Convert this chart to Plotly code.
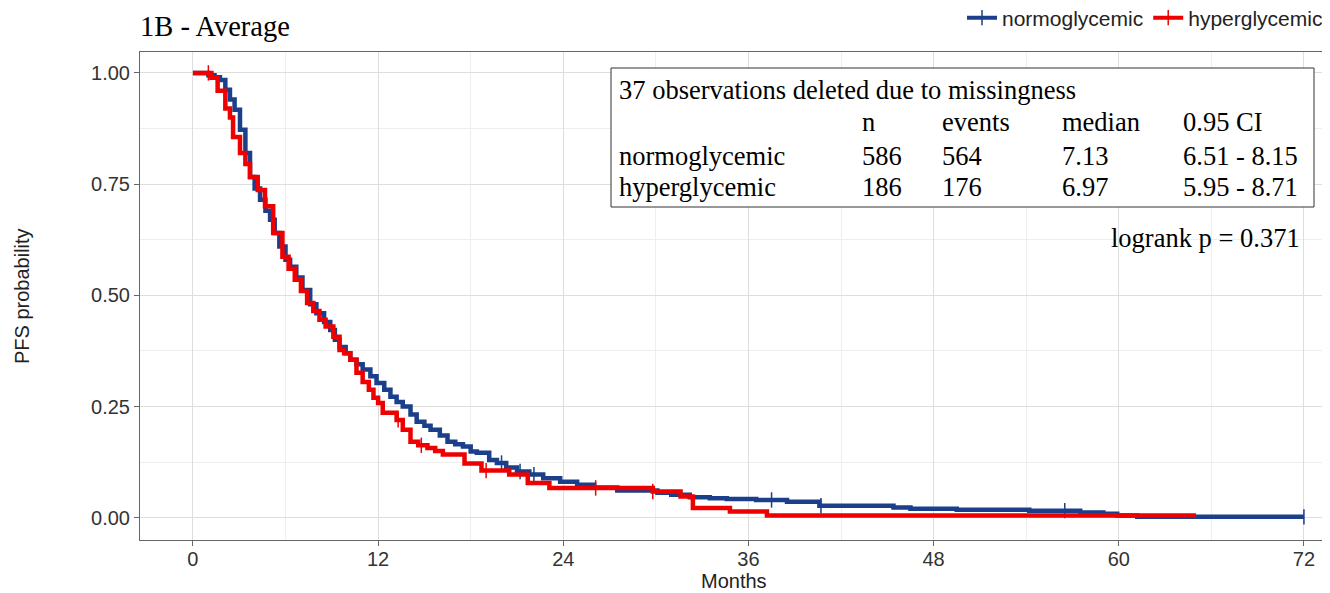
import numpy as np
import plotly.graph_objects as go

# Kaplan-Meier step curves (months, survival after the step)
normo_t = [0, 1.0, 1.4, 1.75, 2.1, 2.4, 2.7, 3.05, 3.4, 3.7, 4.0, 4.35, 4.7, 5.0, 5.3, 5.6, 6.0, 6.3,
           6.7, 7.1, 7.6, 8.0, 8.5, 8.9, 9.2, 9.5, 9.9, 10.2, 10.6, 11.0, 11.5, 11.9, 12.4, 12.8, 13.2,
           13.6, 14.1, 14.5, 15.0, 15.4, 16.0, 16.5, 17.0, 17.5, 18.0, 18.4, 19.2, 19.7, 20.3, 21.0,
           21.8, 22.7, 23.8, 24.9, 26.0, 27.5, 30.1, 31.0, 32.2, 33.5, 34.6, 36.5, 38.5, 40.6, 45.4,
           46.5, 49.5, 54.2, 57.5, 59.0, 59.9, 61.2, 72.0]
normo_s = [1.0, 0.995, 0.99, 0.984, 0.962, 0.94, 0.917, 0.872, 0.82, 0.766, 0.74, 0.715, 0.69, 0.67,
           0.64, 0.61, 0.58, 0.564, 0.54, 0.512, 0.48, 0.46, 0.44, 0.422, 0.40, 0.384, 0.37, 0.355,
           0.345, 0.333, 0.318, 0.303, 0.288, 0.272, 0.26, 0.25, 0.232, 0.216, 0.207, 0.198, 0.185,
           0.171, 0.165, 0.16, 0.149, 0.146, 0.13, 0.123, 0.113, 0.104, 0.097, 0.089, 0.081, 0.074,
           0.068, 0.061, 0.056, 0.052, 0.046, 0.044, 0.042, 0.040, 0.036, 0.027, 0.023, 0.020, 0.018,
           0.016, 0.012, 0.009, 0.005, 0.002, 0.002]

hyper_t = [0, 1.2, 1.6, 2.1, 2.4, 2.6, 3.05, 3.4, 3.7, 4.2, 4.67, 5.2, 5.8, 6.2, 6.6, 7.0, 7.4, 7.8,
           8.2, 8.6, 9.1, 9.5, 9.8, 10.2, 10.6, 11.0, 11.4, 11.7, 12.0, 12.3, 13.2, 13.6, 14.1, 14.6,
           15.2, 15.7, 16.2, 17.6, 18.7, 20.5, 21.7, 23.1, 29.8, 31.6, 32.4, 34.8, 37.2, 65.0]
hyper_s = [1.0, 0.989, 0.96, 0.92, 0.90, 0.856, 0.82, 0.795, 0.766, 0.737, 0.70, 0.64, 0.587, 0.56,
           0.535, 0.51, 0.483, 0.465, 0.445, 0.43, 0.407, 0.377, 0.37, 0.355, 0.326, 0.305, 0.288,
           0.27, 0.258, 0.236, 0.22, 0.198, 0.171, 0.163, 0.157, 0.15, 0.142, 0.122, 0.106, 0.097,
           0.078, 0.067, 0.059, 0.048, 0.022, 0.014, 0.005, 0.005]

# censoring times
normo_cens = [20.0, 21.2, 22.1, 37.5, 40.7, 56.5, 72.0]
hyper_cens = [1.0, 13.3, 14.8, 19.0, 26.1, 29.8]

groups = ["normoglycemic", "hyperglycemic"]
colors = ["#1B3F8B", "#EE0000"]

table_head = ["n", "events", "median", "0.95 CI"]
table_rows = [["normoglycemic", "586", "564", "7.13", "6.51 - 8.15"],
              ["hyperglycemic", "186", "176", "6.97", "5.95 - 8.71"]]


def surv_at(t, s, times):
    idx = np.searchsorted(t, times, side="right") - 1
    return [s[i] for i in idx]


fig = go.Figure()
curves = [(normo_t, normo_s, normo_cens), (hyper_t, hyper_s, hyper_cens)]
for name, col, (t, s, c) in zip(groups, colors, curves):
    fig.add_trace(go.Scatter(x=t, y=s, mode="lines", line=dict(color=col, width=4.5, shape="hv"),
                             name=name, showlegend=False))
    fig.add_trace(go.Scatter(x=c, y=surv_at(t, s, c), mode="markers", showlegend=False,
                             marker=dict(symbol="line-ns", size=11, line=dict(color=col, width=1.5))))
    # legend entry: line with a cross tick
    fig.add_trace(go.Scatter(x=[None], y=[None], mode="lines+markers", name=name,
                             line=dict(color=col, width=4),
                             marker=dict(symbol="line-ns", size=11, line=dict(color=col, width=1.5))))

# page body has an 8px margin, so the figure is drawn 8px smaller
OFF = 8
W, H = 1330 - OFF, 593 - OFF
# plot area in page pixels: x 140..1328, y 52..540
PL, PR, PT, PB = 140, 1328, 52, 540
L, R, T, B = PL - OFF, 1330 - PR, PT - OFF, 593 - PB


def px(x):
    return (x - PL) / (PR - PL)


def py(y):
    return (PB - y) / (PB - PT)


serif = dict(family="Liberation Serif, Times New Roman, serif", size=26.5, color="black")
sans = "Liberation Sans, Arial, sans-serif"


def note(x, y, text, font, xanchor="left", **kw):
    fig.add_annotation(x=px(x), y=py(y), xref="paper", yref="paper", xanchor=xanchor,
                       yanchor="middle", showarrow=False, text=text, font=font, **kw)


# table box
fig.add_shape(type="rect", xref="paper", yref="paper", x0=px(611), x1=px(1314), y0=py(207), y1=py(68),
              line=dict(color="#333333", width=1), fillcolor="white", layer="above")
note(617, 90, "37 observations deleted due to missingness", serif)
col_x = [617, 860, 940, 1060, 1181]
for j, h in enumerate(table_head):
    note(col_x[j + 1], 122, h, serif)
for i, row in enumerate(table_rows):
    for j, v in enumerate(row):
        note(col_x[j], 156 + 31 * i, v, serif)
note(1302, 238, "logrank p = 0.371", serif, xanchor="right")

note(138, 26, "1B - Average", dict(family="Liberation Serif, serif", size=28.5, color="black"))
note(734, 581, "Months", dict(family=sans, size=20, color="#222222"), xanchor="center")
note(22, 296, "PFS probability", dict(family=sans, size=20, color="#222222"), xanchor="center",
     textangle=-90)

axis_common = dict(showline=True, mirror=True, linecolor="#666666", linewidth=1, ticks="outside",
                   ticklen=5, tickcolor="#666666", gridcolor="#DEDEDE", gridwidth=1, zeroline=False,
                   automargin=False,
                   tickfont=dict(family=sans, size=20, color="#333333"))

fig.update_layout(
    width=W, height=H,
    margin=dict(l=L, r=R, t=T, b=B, autoexpand=False),
    plot_bgcolor="white", paper_bgcolor="white",
    font=dict(family=sans, color="#222222"),
    legend=dict(orientation="h", xref="container", yref="container", x=(962 - OFF) / W,
                xanchor="left", y=1 - 10 / H, yanchor="middle", tracegroupgap=0,
                font=dict(size=21, color="#222222"), bgcolor="rgba(0,0,0,0)", itemwidth=30),
    xaxis=dict(range=[-3.43, 73.56], tickmode="array", tickvals=[0, 12, 24, 36, 48, 60, 72],
               ticklabelstandoff=-4,
               minor=dict(dtick=6, tick0=0, showgrid=True, gridcolor="#EEEEEE"), **axis_common),
    yaxis=dict(range=[-0.05, 1.047], tickvals=[0, 0.25, 0.5, 0.75, 1.0], tickformat=".2f",
               minor=dict(dtick=0.125, tick0=0, showgrid=True, gridcolor="#EEEEEE"), **axis_common),
)

fig.write_html("out.html")
